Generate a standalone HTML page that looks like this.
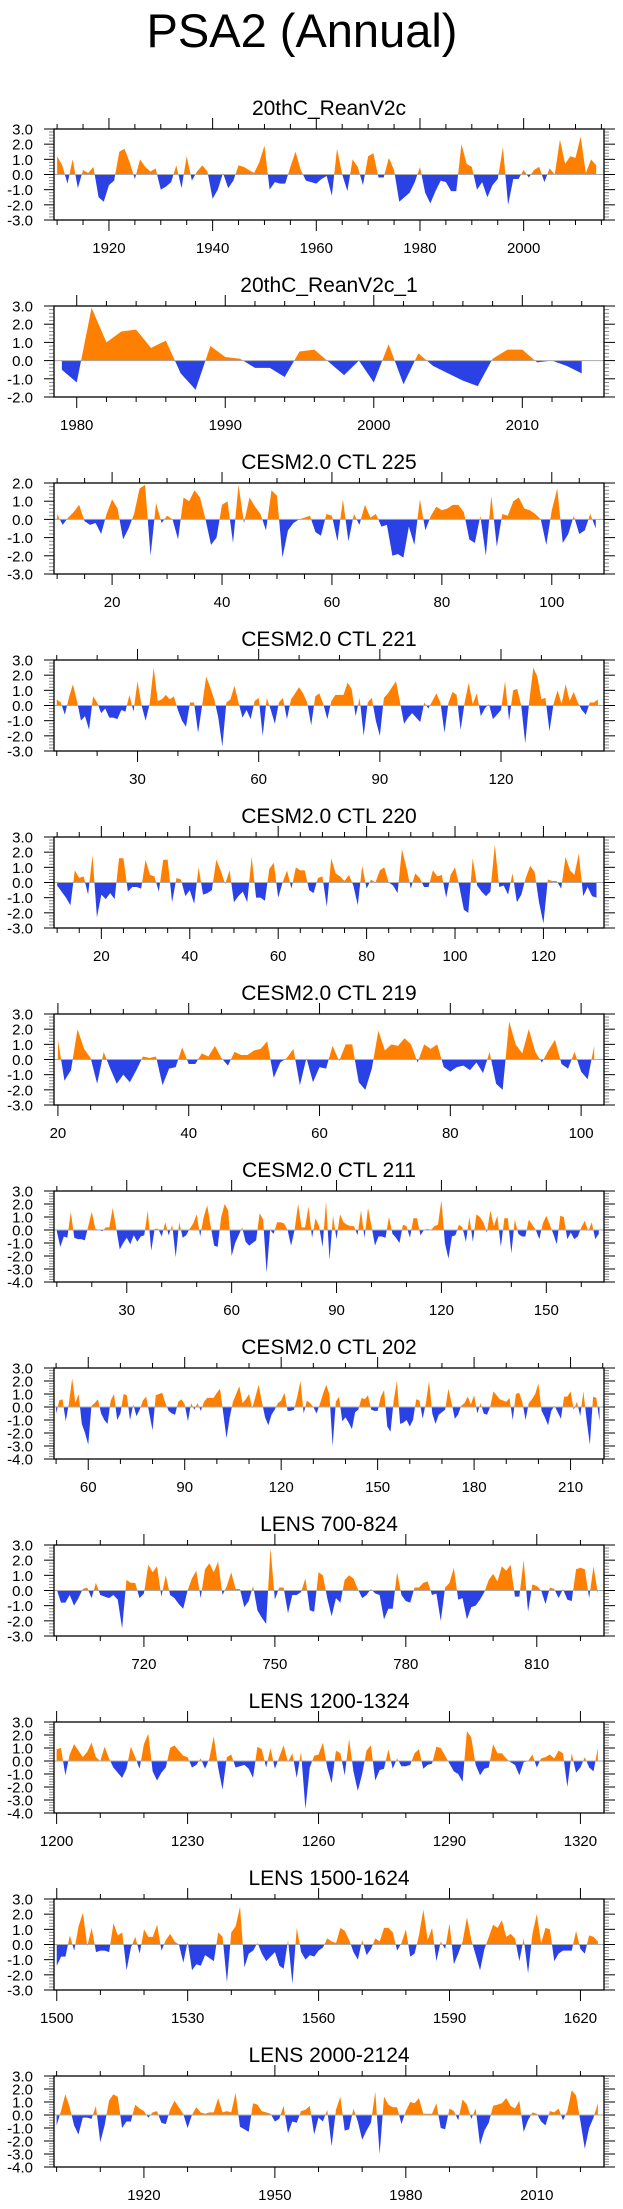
<!DOCTYPE html>
<html><head><meta charset="utf-8"><title>PSA2 (Annual)</title>
<style>html,body{margin:0;padding:0;background:#fff;}svg{display:block;font-family:"Liberation Sans",Arial,sans-serif;}</style>
</head><body>
<svg id="chart" width="623" height="2209" viewBox="0 0 623 2209" xmlns="http://www.w3.org/2000/svg">
<rect width="623" height="2209" fill="#fff"/>
<text x="302" y="47" text-anchor="middle" font-size="47" fill="#000">PSA2 (Annual)</text>
</svg>
<script>
// ---- data ----
const panelTitles = ["20thC_ReanV2c","20thC_ReanV2c_1","CESM2.0 CTL 225","CESM2.0 CTL 221","CESM2.0 CTL 220","CESM2.0 CTL 219","CESM2.0 CTL 211","CESM2.0 CTL 202","LENS 700-824","LENS 1200-1324","LENS 1500-1624","LENS 2000-2124"];
const panelStartX = [1910,1979,10,10,10,20,10,50,700,1200,1500,1900];
const panelYMin = [-3,-2,-3,-3,-3,-3,-4,-4,-3,-4,-3,-4];
const panelYMax = [3,3,2,3,3,3,3,3,3,3,3,3];
const panelXMin = [1909.4,1978.47,9.43,9.32,9.29,19.4,9.19,49.35,699.4,1199.4,1499.37,1899.4];
const panelXMax = [2015.5,2015.5,109.5,145.5,133.7,103.5,166.5,220.4,825.4,1325.4,1625.4,2025.4];
const panelMajorStep = [20,10,20,30,20,20,30,30,30,30,30,30];
const panelMinorStep = [5,2,5,10,5,5,10,10,10,10,10,10];

const valuesRean = [1.2,0.6,-0.6,1.0,-0.9,0.3,0.1,0.5,-1.5,-1.8,-0.7,-0.4,1.5,1.7,0.8,-0.3,1.0,0.5,0.2,0.4,-1.0,-0.8,-0.5,0.6,-0.9,1.2,-0.4,0.2,0.6,0.2,-1.6,-1.0,0.1,-0.9,-0.4,0.6,0.5,0.3,0.1,0.8,1.9,-1.0,-0.5,-0.6,-0.6,0.5,1.5,0.3,-0.4,-0.5,-0.6,-0.3,-0.1,-1.4,1.7,0.0,-1.1,1.0,0.5,-0.7,1.2,1.4,-0.2,-0.2,1.1,0.3,-1.8,-1.5,-1.2,-0.5,0.5,-1.2,-1.9,-1.1,-0.4,-0.5,-1.1,-1.1,2.0,0.7,0.5,-1.0,-0.5,-1.5,-0.7,-0.3,1.8,-2.0,-0.3,-0.3,0.3,-0.2,0.3,0.5,-0.5,0.4,0.0,2.3,0.7,1.2,1.1,2.5,0.1,1.0,0.6];
const valuesRean1 = [-0.5,-1.2,2.9,1.0,1.6,1.7,0.7,1.1,-0.7,-1.6,0.8,0.2,0.1,-0.4,-0.4,-0.9,0.5,0.6,-0.1,-0.8,0.0,-1.2,0.9,-1.3,0.4,-0.3,-0.7,-1.1,-1.4,0.1,0.6,0.6,-0.1,0.0,-0.3,-0.7];
const valuesCtl225 = [0.3,-0.3,0.1,0.4,0.8,-0.1,-0.3,-0.2,-0.8,0.3,1.1,0.6,-1.1,-0.5,0.3,1.7,1.9,-2.0,0.9,-0.2,0.2,0.0,-1.1,1.2,1.0,1.6,1.2,0.0,-1.4,-1.0,0.8,1.0,-1.3,1.9,-0.2,1.2,0.7,0.3,-0.6,1.6,1.3,-2.1,-0.6,-0.2,0.0,0.1,0.2,-0.7,-0.9,0.3,0.2,-1.2,1.1,-1.2,0.3,-0.3,0.8,0.1,0.3,-0.4,-0.3,-2.0,-1.9,-2.1,-0.4,-1.4,1.1,-0.6,0.2,0.7,0.5,0.6,0.8,0.8,0.4,-1.1,-1.3,0.2,-2.0,1.3,-1.5,0.3,0.2,1.0,1.2,0.6,0.5,0.3,0.0,-1.4,0.5,1.7,-1.3,-0.8,0.2,-0.8,-0.6,0.3,-0.5];
const valuesCtl221 = [0.4,0.2,-0.6,0.5,1.4,0.3,-1.0,-0.7,-1.6,0.6,0.2,-0.5,-0.2,-0.8,-0.8,-0.9,-0.3,-0.4,0.7,-0.4,1.6,0.0,-1.0,0.1,2.5,0.3,0.4,0.7,0.4,0.6,-0.3,-1.0,-1.4,0.2,0.2,-1.8,0.0,1.9,1.2,0.4,-0.8,-2.7,0.2,0.4,1.3,0.2,-0.8,-0.3,-0.9,0.3,0.5,-2.0,0.5,-0.3,-1.2,0.2,0.5,-0.9,0.4,0.8,1.2,0.8,0.2,-1.3,0.6,0.8,0.1,-0.9,0.3,0.7,0.7,0.7,1.5,1.1,-0.7,0.5,-2.0,0.2,0.5,-1.0,-2.0,0.5,0.8,1.2,1.6,0.2,-1.2,-0.8,-0.5,-0.8,-1.1,0.2,-0.2,0.3,0.8,0.2,-1.8,0.2,0.9,0.7,-1.6,0.2,1.5,0.1,0.8,-0.7,-0.2,0.1,-0.9,-0.6,-0.3,1.6,-1.0,1.0,1.1,0.0,-2.5,0.3,2.5,1.9,0.4,0.5,-1.7,0.1,1.0,0.1,1.4,0.3,0.9,0.2,-0.3,-0.6,0.2,0.2,0.4];
const valuesCtl220 = [-0.2,-0.6,-1.0,-1.5,0.8,0.3,0.4,-0.8,1.8,-2.3,-0.8,-1.1,-0.7,-1.1,1.6,1.6,-0.6,-0.3,-0.3,-0.4,1.5,0.5,0.4,-0.6,1.5,1.5,-1.3,0.3,0.2,-0.9,-0.5,-1.4,1.0,-0.8,-0.7,-0.5,1.5,0.8,-0.1,0.8,-1.3,-0.9,-0.6,-1.3,1.7,-1.0,-1.0,-1.2,0.9,1.3,-1.0,0.0,0.8,-0.4,1.0,0.8,0.8,-0.5,-0.7,0.3,0.4,-1.6,1.6,0.6,0.4,0.1,0.5,-0.2,-1.5,1.1,-0.4,0.2,0.0,0.8,1.0,0.0,-0.2,-0.7,2.2,1.0,-0.4,0.6,0.3,-0.3,-0.3,0.8,0.4,0.5,-1.0,0.5,1.0,-0.3,-1.8,-2.0,1.6,-0.2,-0.6,-0.9,-0.6,2.5,-0.3,-0.2,-0.8,0.6,-1.3,-0.8,0.3,1.1,0.7,-1.3,-2.7,0.2,0.1,0.1,-0.4,1.7,0.8,0.5,1.9,-0.9,-0.3,-0.9,-1.0];
const valuesCtl219 = [1.3,-1.4,-0.7,2.0,0.7,0.1,-1.6,0.5,-0.6,-1.6,-1.0,-1.5,-0.7,0.2,0.1,0.2,-1.7,-0.6,-0.5,0.8,-0.3,-0.3,0.4,0.2,0.9,0.1,-0.4,0.5,0.3,0.3,0.6,0.7,1.2,-1.2,-0.2,0.1,0.7,-1.7,0.1,-1.5,-0.5,-0.6,0.9,-0.1,1.0,1.0,-1.5,-2.0,-0.6,1.9,0.6,1.0,0.9,1.4,1.0,-0.2,1.0,0.7,1.0,-0.5,-0.8,-0.5,-0.4,-0.7,-0.2,-0.9,0.5,-1.6,-2.0,2.5,1.0,0.4,2.0,0.5,-0.2,0.6,1.3,-0.3,-0.6,0.5,-0.8,-1.3,0.9];
const valuesCtl211 = [-0.1,-1.3,-0.5,-0.6,1.4,-0.6,-0.7,-0.7,-0.8,0.3,1.4,0.1,0.0,-0.1,0.2,0.2,1.7,0.1,-1.5,-1.0,-0.6,-1.1,-0.4,-0.9,-0.5,-0.4,1.5,-1.6,0.1,0.1,-0.5,0.6,-0.4,0.4,-2.1,0.6,-0.6,-0.4,0.1,0.5,1.2,-0.5,1.0,1.9,0.3,-1.2,-1.3,1.0,2.0,1.5,-2.0,-1.0,-0.4,0.2,-0.9,-1.2,-1.0,-0.8,1.3,0.8,-3.3,0.0,-0.3,0.6,0.6,0.5,0.0,-1.2,0.0,2.0,0.2,0.2,1.8,-0.6,0.9,0.3,-1.3,2.2,-2.3,1.1,-0.7,1.2,0.6,0.4,0.3,0.3,-0.4,1.5,-0.6,1.7,0.3,-1.2,-0.5,-0.5,-0.6,1.0,-0.3,-0.6,-1.0,0.4,0.3,-0.6,0.9,0.9,-0.4,0.0,0.1,0.0,0.3,0.4,2.3,-1.0,-2.2,-0.5,-0.4,0.4,0.2,-0.9,1.0,-0.9,1.2,1.0,0.6,-0.2,1.5,0.3,1.1,-1.3,0.9,0.9,-1.8,0.8,-0.3,-0.5,-0.5,0.8,0.4,0.0,-0.7,0.5,1.1,0.4,-0.3,-1.1,1.1,1.0,-0.7,-0.2,-0.7,-0.5,0.2,0.7,-0.1,0.6,-0.7,-0.3];
const valuesCtl202 = [-0.5,0.5,0.6,-1.1,0.3,2.2,0.3,1.0,-1.3,-2.0,-2.9,0.1,0.3,0.6,-0.5,-1.0,-1.3,0.5,1.0,-1.0,-0.5,1.0,0.9,-1.0,0.2,-0.7,-0.2,0.5,0.8,-0.5,-1.8,0.9,1.0,1.1,0.3,-0.3,-0.5,-0.6,0.4,0.6,0.2,-1.1,0.3,-0.2,0.3,-0.3,0.4,0.7,0.7,0.7,1.1,1.4,-0.5,-2.4,-0.8,0.4,1.0,1.6,0.3,0.6,1.0,-0.1,0.8,1.7,0.4,-0.8,-1.4,-0.6,-0.2,0.3,0.5,1.1,-0.3,-0.3,-0.2,0.8,2.0,-0.5,0.5,0.3,0.0,-0.5,0.2,1.0,1.7,1.0,-3.0,0.4,0.8,-1.1,-0.8,-1.2,-1.7,-0.4,-0.2,0.7,0.6,0.9,-0.2,-0.3,-0.3,0.8,1.3,-1.5,-1.9,0.5,2.0,-1.3,-1.2,-1.0,-1.5,-1.0,0.6,0.5,-0.9,0.3,2.0,-0.5,-1.3,-0.6,-0.4,-0.2,1.4,0.3,-0.9,-0.6,0.1,0.3,0.8,0.2,0.9,-0.5,0.3,-0.5,-0.6,0.0,1.2,0.9,0.6,0.5,0.4,0.7,-1.0,1.0,1.1,0.4,-1.0,0.3,0.6,1.0,1.8,-0.3,-0.8,-1.4,-0.3,0.1,-0.4,-0.9,0.8,0.8,1.2,-0.2,0.4,-0.7,1.2,-1.0,-2.9,0.8,0.7,-1.1];
const valuesLens700 = [0.1,-0.8,-0.8,-0.3,-1.0,-0.5,0.1,0.2,-0.5,0.5,-0.3,-0.4,-0.5,-0.3,-0.6,-2.5,0.7,0.5,0.5,-0.5,-0.2,1.7,1.2,1.6,-0.4,1.0,-0.3,-0.5,-0.9,-1.2,0.0,0.8,1.3,-0.5,1.4,1.8,1.2,1.9,-0.3,0.3,1.2,0.1,0.1,-1.1,-0.7,0.3,-1.3,-1.8,-2.2,2.8,-0.6,0.2,0.2,-1.5,-0.3,-0.3,-0.1,0.8,-1.3,-1.4,1.2,1.0,-0.5,-1.7,-0.5,-0.8,0.7,1.0,0.8,0.1,-0.5,-0.3,0.1,-0.2,-0.3,-1.9,-1.2,-1.2,1.2,-0.3,-0.7,-0.8,0.2,0.2,0.5,0.6,-0.3,-0.2,-2.0,0.2,0.5,1.5,-0.6,-0.5,-1.9,-1.1,-1.0,-0.6,-0.1,0.7,1.1,0.6,1.6,1.3,1.7,-0.4,-0.4,2.0,-1.4,0.4,0.3,0.0,-0.9,0.2,0.1,-0.5,0.1,-0.6,-0.7,1.4,1.5,1.4,-0.5,1.6,-0.2];
const valuesLens1200 = [0.9,1.0,-1.1,0.5,1.3,0.8,0.3,0.7,1.4,0.3,0.0,1.1,0.2,-0.5,-0.9,-1.3,-0.6,1.1,0.3,-0.6,1.3,2.1,-0.8,-1.5,-0.9,-0.5,1.0,1.2,0.8,0.4,0.3,-0.5,-0.3,0.2,-0.6,0.2,1.9,-0.5,-2.2,0.3,0.5,-0.5,-0.4,-0.3,-0.6,-1.3,1.1,0.9,-0.5,1.0,-0.6,0.3,1.2,-0.1,0.6,-1.3,0.7,-3.7,-0.5,0.4,0.5,1.4,-0.5,-1.7,0.8,0.6,-1.1,1.7,-0.8,-2.3,-1.0,0.8,1.2,-1.5,-0.7,-0.6,0.9,-0.6,0.2,-0.4,-0.4,-0.3,0.6,0.9,-0.6,-0.3,-0.2,1.1,1.0,0.4,-0.2,-0.8,-1.0,-1.6,2.3,1.8,-0.3,-1.1,-0.6,-0.5,1.3,0.6,0.6,0.2,-0.1,-0.3,-1.1,-0.1,0.0,0.5,-0.5,0.2,0.3,0.5,0.2,0.8,0.6,-2.0,0.6,-0.9,-0.5,0.3,-0.5,-0.8,1.0];
const valuesLens1500 = [-1.4,-0.8,-0.8,0.6,-0.4,1.2,2.1,-0.1,1.1,-0.5,-0.4,-0.4,-0.5,1.4,0.6,0.8,-1.7,-0.2,0.5,-0.6,1.0,0.5,0.5,1.3,-0.4,0.3,0.7,0.2,0.0,-1.2,0.2,-1.7,-1.3,-1.4,-0.7,-0.9,-1.1,0.8,0.5,-2.5,0.8,1.2,2.5,-1.5,-0.6,-0.4,0.1,-0.6,-1.1,-0.8,-0.5,-1.4,-1.6,0.3,-2.6,1.1,-0.5,-1.0,-0.7,-0.8,-0.4,-0.2,0.4,0.2,0.1,1.1,0.9,0.3,-0.5,-1.0,0.3,-0.7,-0.3,0.4,0.2,1.1,1.1,0.8,-0.4,0.1,1.0,-0.8,-0.6,0.6,2.3,0.3,1.1,-1.1,0.2,-0.3,1.4,-1.3,-0.6,0.2,1.8,0.3,-0.7,-1.7,-0.3,0.5,1.3,1.1,1.6,0.5,0.7,0.4,-1.1,0.4,-1.9,0.7,2.0,0.1,1.1,1.0,-1.1,-0.6,-0.4,-0.4,-0.4,0.9,-0.3,-0.6,0.6,0.5,0.2];
const valuesLens2000 = [-0.8,0.3,1.6,0.6,-0.8,-1.5,-0.2,-0.2,-0.3,0.7,-2.1,-0.8,1.1,1.6,1.4,-1.0,-0.5,-0.5,0.8,0.5,0.3,-0.2,0.2,0.3,-0.6,-0.7,0.4,1.1,0.6,0.1,-1.0,0.0,0.6,0.2,0.1,0.2,0.2,1.3,0.2,0.3,0.2,1.7,-0.9,-1.1,-1.3,0.9,0.8,0.3,0.2,0.1,-0.5,-0.3,0.7,-1.4,-0.5,-0.6,0.3,0.4,0.7,-1.5,-0.2,-0.5,0.4,-2.4,0.4,1.4,-1.2,-1.1,0.5,-0.5,-1.9,-1.2,-0.6,1.8,-3.0,1.4,0.8,0.6,0.6,-0.7,0.3,1.0,0.9,1.3,0.1,0.1,0.1,0.9,-1.0,-1.1,0.5,0.3,-0.4,1.2,0.8,-0.3,0.5,-2.3,-1.2,-0.6,0.7,0.8,0.9,1.3,0.7,0.5,1.1,-1.3,-0.4,0.2,0.1,-0.5,-0.8,0.3,0.2,0.5,-0.4,0.3,1.9,1.5,-0.5,-2.6,-1.0,-0.2,0.9];

const panelValues = [valuesRean,valuesRean1,valuesCtl225,valuesCtl221,valuesCtl220,valuesCtl219,valuesCtl211,valuesCtl202,valuesLens700,valuesLens1200,valuesLens1500,valuesLens2000];

// ---- layout ----
const NS = "http://www.w3.org/2000/svg";
const svg = document.getElementById("chart");
const boxL = 54, boxR = 604, boxH = 91, firstTop = 129, pitch = 177;
const ORANGE = "#ff8000", BLUE = "#2a41e6";

function mk(parent, tag, attrs, text) {
  const e = document.createElementNS(NS, tag);
  for (const k in attrs) e.setAttribute(k, attrs[k]);
  if (text !== undefined) e.textContent = text;
  parent.appendChild(e);
  return e;
}

panelTitles.forEach((title, i) => {
  const top = firstTop + i * pitch, bottom = top + boxH;
  const xmin = panelXMin[i], xmax = panelXMax[i], ymin = panelYMin[i], ymax = panelYMax[i];
  const sx = v => boxL + (v - xmin) / (xmax - xmin) * (boxR - boxL);
  const sy = v => bottom - (v - ymin) / (ymax - ymin) * boxH;
  const vals = panelValues[i], x0 = panelStartX[i];

  const g = mk(svg, "g", {});
  
  

  const t = mk(g, "text", {x: (boxL + boxR) / 2, y: top - 14, "text-anchor": "middle", "font-size": 21, fill: "#000"}, title);
  
  

  const z = sy(0);
  const cpPos = mk(g, "clipPath", {id: "pos" + i});
  mk(cpPos, "rect", {x: boxL, y: top, width: boxR - boxL, height: z - top});
  const cpNeg = mk(g, "clipPath", {id: "neg" + i});
  mk(cpNeg, "rect", {x: boxL, y: z, width: boxR - boxL, height: bottom - z});

  let d = "M" + sx(x0).toFixed(2) + "," + z.toFixed(2);
  vals.forEach((v, k) => { d += " L" + sx(x0 + k).toFixed(2) + "," + sy(v).toFixed(2); });
  d += " L" + sx(x0 + vals.length - 1).toFixed(2) + "," + z.toFixed(2) + " Z";

  const pa = mk(g, "path", {d: d, fill: ORANGE, "clip-path": "url(#pos" + i + ")"});
  
  
  const na = mk(g, "path", {d: d, fill: BLUE, "clip-path": "url(#neg" + i + ")"});
  
  

  const zl = mk(g, "line", {x1: boxL, x2: boxR, y1: z, y2: z, stroke: "#aaa", "stroke-width": 1});
  
  

  const minor = panelMinorStep[i], major = panelMajorStep[i];
  for (let v = Math.ceil(xmin / minor) * minor; v <= xmax; v += minor) {
    const isMaj = v % major === 0, len = isMaj ? 11 : 5, x = sx(v);
    const tb = mk(g, "line", {x1: x, x2: x, y1: bottom, y2: bottom + len, stroke: "#000", "stroke-width": 1});
    
    
    const tt = mk(g, "line", {x1: x, x2: x, y1: top, y2: top - len, stroke: "#000", "stroke-width": 1});
    
    
    if (isMaj) {
      const lb = mk(g, "text", {x: x, y: bottom + 33, "text-anchor": "middle", "font-size": 15, fill: "#000"}, String(v));
      
      
    }
  }
  for (let k = ymin * 5; k <= ymax * 5; k++) {
    const v = k / 5, y = sy(v), isMaj = k % 5 === 0;
    const tl = mk(g, "line", {x1: boxL - (isMaj ? 10 : 5), x2: boxL, y1: y, y2: y, stroke: isMaj ? "#000" : "#888", "stroke-width": 1});
    
    
    const tr = mk(g, "line", {x1: boxR, x2: boxR + (isMaj ? 11 : 5), y1: y, y2: y, stroke: isMaj ? "#000" : "#888", "stroke-width": 1});
    
    
    if (isMaj) {
      const yl = mk(g, "text", {x: 33, y: y + 5.5, "text-anchor": "end", "font-size": 15, fill: "#000"}, v.toFixed(1));
      
      
    }
  }
  const box = mk(g, "rect", {x: boxL, y: top, width: boxR - boxL, height: boxH, fill: "none", stroke: "#000", "stroke-width": 1.3});
  
  
});
</script>
</body></html>
